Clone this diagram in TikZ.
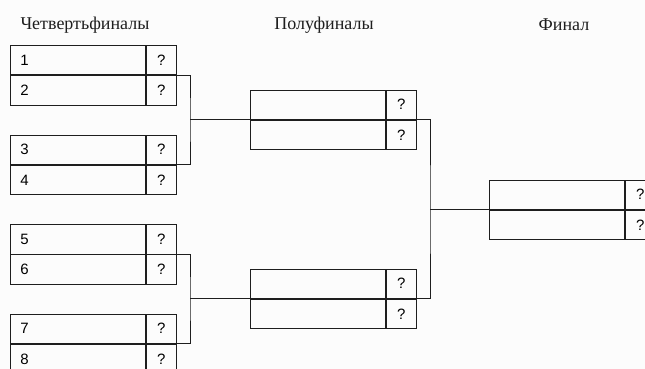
\documentclass[tikz,border=0pt]{standalone}
\usepackage{fontspec}
\setmainfont{Liberation Serif}
\newfontfamily\boxfont{Liberation Sans}
\usepackage{xcolor}
\usetikzlibrary{positioning}

\definecolor{paper}{RGB}{252,252,252}
\definecolor{ink}{RGB}{30,30,30}

\begin{document}
\begin{tikzpicture}[
      x=1pt, y=-1pt,
      team/.style={draw=ink, line width=0.9pt, anchor=north west, minimum height=29.5pt,
        text width=115pt, inner xsep=10pt, inner ysep=0pt, align=left, font=\boxfont\fontsize{15}{15}\selectfont},
      score/.style={draw=ink, line width=0.9pt, right=0pt of #1, minimum height=29.5pt,
        minimum width=30pt, inner sep=0pt, font=\boxfont\fontsize{15}{15}\selectfont},
      title/.style={font=\fontsize{18}{18}\selectfont, text=ink},
      link/.style={ink, line width=0.9pt}
    ]
    \fill[paper] (0,0) rectangle (645,369);
    \useasboundingbox (0,0) rectangle (645,369);

    % round titles
    \node[title] (tq) at (85,25) {Четвертьфиналы};
    \node[title] (ts) at (324,25) {Полуфиналы};
    \node[title] (tf) at (564,25) {Финал};

    % quarter-finals
    \node[team] (q1) at (10,45) {1};
    \node[team, below=0pt of q1] (q2) {2};
    \node[team] (q3) at (10,134.5) {3};
    \node[team, below=0pt of q3] (q4) {4};
    \node[team] (q5) at (10,224) {5};
    \node[team, below=0pt of q5] (q6) {6};
    \node[team] (q7) at (10,313.5) {7};
    \node[team, below=0pt of q7] (q8) {8};
    \node[score=q1] (q1s) {?};
    \node[score=q2] (q2s) {?};
    \node[score=q3] (q3s) {?};
    \node[score=q4] (q4s) {?};
    \node[score=q5] (q5s) {?};
    \node[score=q6] (q6s) {?};
    \node[score=q7] (q7s) {?};
    \node[score=q8] (q8s) {?};

    % semi-finals
    \node[team] (s1) at (250,89.5) {};
    \node[team, below=0pt of s1] (s2) {};
    \node[team] (s3) at (250,268.5) {};
    \node[team, below=0pt of s3] (s4) {};
    \node[score=s1] (s1s) {?};
    \node[score=s2] (s2s) {?};
    \node[score=s3] (s3s) {?};
    \node[score=s4] (s4s) {?};

    % final
    \node[team] (f1) at (489,179.5) {};
    \node[team, below=0pt of f1] (f2) {};
    \node[score=f1] (f1s) {?};
    \node[score=f2] (f2s) {?};

    % bracket joints
    \coordinate[left=60pt of s1.south west] (j1);
    \coordinate[left=60pt of s3.south west] (j2);
    \coordinate[left=59pt of f1.south west] (j3);

    \draw[link] (q1s.south east) -| (j1) |- (q3s.south east);
    \draw[link] (j1) -- (s1.south west);
    \draw[link] (q5s.south east) -| (j2) |- (q7s.south east);
    \draw[link] (j2) -- (s3.south west);
    \draw[link] (s1s.south east) -| (j3) |- (s3s.south east);
    \draw[link] (j3) -- (f1.south west);
  \end{tikzpicture}
\end{document}
